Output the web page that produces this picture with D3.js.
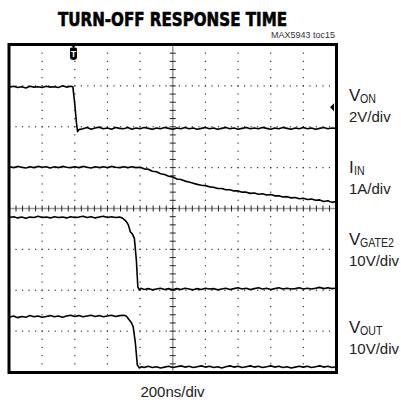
<!DOCTYPE html>
<html>
<head>
<meta charset="utf-8">
<script src="https://cdnjs.cloudflare.com/ajax/libs/d3/7.8.5/d3.min.js"></script>
<style>
  body { margin: 0; background: #fff; }
  svg { display: block; }
</style>
</head>
<body>
<svg width="401" height="404"></svg>
<script>
// time in ns, level in screen divisions (0 = centre line)
var vOn = [[0,2.97],[25,2.99],[50,2.96],[75,2.98],[100,2.95],[125,2.99],[150,2.97],[175,2.98],[200,2.96],[225,2.99],
  [250,2.97],[275,2.98],[300,2.96],[325,3.00],[350,2.97],[375,2.99],[388,2.98],[400,2.55],[410,2.10],[417,1.88],
  [425,1.93],[450,1.95],[475,1.98],[500,1.94],[525,1.97],[550,1.99],[575,1.95],[600,1.97],[625,1.94],[650,1.98],
  [675,1.96],[700,1.95],[725,1.98],[750,1.94],[775,1.97],[800,1.95],[825,1.98],[850,1.96],[875,1.94],[900,1.97],
  [925,1.95],[950,1.98],[975,1.96],[1000,1.94],[1025,1.97],[1050,1.95],[1075,1.98],[1100,1.95],[1125,1.97],[1150,1.94],
  [1175,1.96],[1200,1.98],[1225,1.95],[1250,1.97],[1275,1.94],[1300,1.96],[1325,1.98],[1350,1.95],[1375,1.97],[1400,1.94],
  [1425,1.96],[1450,1.98],[1475,1.95],[1500,1.97],[1525,1.95],[1550,1.98],[1575,1.96],[1600,1.94],[1625,1.97],[1650,1.95],
  [1675,1.98],[1700,1.96],[1725,1.94],[1750,1.97],[1775,1.95],[1800,1.98],[1825,1.95],[1850,1.97],[1875,1.94],[1900,1.96],
  [1925,1.98],[1950,1.95],[1975,1.97],[2000,1.96]];

var iIn = [[0,1.02],[25,1.00],[50,1.03],[75,1.01],[100,0.99],[125,1.02],[150,1.00],[175,1.03],[200,1.01],[225,1.02],
  [250,0.99],[275,1.02],[300,1.00],[325,1.03],[350,1.01],[375,1.00],[400,1.02],[425,1.00],[450,1.03],[475,1.01],
  [500,0.99],[525,1.02],[550,1.00],[575,1.02],[600,1.00],[625,1.03],[650,1.01],[675,1.00],[700,1.02],[725,1.00],
  [750,1.02],[775,1.00],[800,1.01],[825,0.97],[850,0.96],[875,0.91],[900,0.90],[925,0.85],[950,0.83],[975,0.79],
  [1000,0.77],[1025,0.72],[1050,0.71],[1075,0.67],[1100,0.65],[1125,0.62],[1150,0.59],[1175,0.57],[1200,0.56],[1225,0.53],
  [1250,0.52],[1275,0.49],[1300,0.49],[1325,0.46],[1350,0.46],[1375,0.43],[1400,0.43],[1425,0.40],[1450,0.40],[1475,0.37],
  [1500,0.38],[1525,0.35],[1550,0.36],[1575,0.33],[1600,0.34],[1625,0.31],[1650,0.31],[1675,0.28],[1700,0.29],[1725,0.26],
  [1750,0.27],[1775,0.24],[1800,0.25],[1825,0.22],[1850,0.23],[1875,0.20],[1900,0.21],[1925,0.17],[1950,0.19],[1975,0.15],
  [2000,0.17]];

var vGate2 = [[0,-0.22],[25,-0.20],[50,-0.23],[75,-0.21],[100,-0.24],[125,-0.21],[150,-0.22],[175,-0.19],[200,-0.22],[225,-0.21],
  [250,-0.23],[275,-0.20],[300,-0.22],[325,-0.21],[350,-0.23],[375,-0.20],[400,-0.22],[425,-0.21],[450,-0.19],[475,-0.22],
  [500,-0.20],[525,-0.23],[550,-0.21],[575,-0.19],[600,-0.22],[625,-0.20],[650,-0.22],[675,-0.21],[690,-0.23],[705,-0.28],
  [716,-0.32],[728,-0.40],[740,-0.57],[752,-0.62],[765,-0.73],[777,-1.26],[786,-1.91],[795,-1.99],[805,-1.95],[825,-1.98],
  [850,-1.96],[875,-1.99],[900,-1.97],[925,-1.95],[950,-1.98],[975,-1.96],[1000,-1.99],[1025,-1.96],[1050,-1.98],[1075,-1.95],
  [1100,-1.97],[1125,-1.99],[1150,-1.96],[1175,-1.98],[1200,-1.95],[1225,-1.97],[1250,-1.96],[1275,-1.99],[1300,-1.97],[1325,-1.95],
  [1350,-1.98],[1375,-1.96],[1400,-1.94],[1425,-1.97],[1450,-1.95],[1475,-1.98],[1500,-1.96],[1525,-1.94],[1550,-1.97],[1575,-1.95],
  [1600,-1.98],[1625,-1.96],[1650,-1.94],[1675,-1.97],[1700,-1.95],[1725,-1.97],[1750,-1.96],[1775,-1.94],[1800,-1.97],[1825,-1.95],
  [1850,-1.97],[1875,-1.95],[1900,-1.93],[1925,-1.96],[1950,-1.94],[1975,-1.96],[2000,-1.95]];

var vOut = [[0,-2.66],[25,-2.63],[50,-2.67],[75,-2.64],[100,-2.66],[125,-2.62],[150,-2.65],[175,-2.63],[200,-2.66],[225,-2.64],
  [250,-2.62],[275,-2.65],[300,-2.63],[325,-2.66],[350,-2.63],[375,-2.61],[400,-2.64],[425,-2.62],[450,-2.65],[475,-2.63],
  [500,-2.61],[525,-2.64],[550,-2.62],[575,-2.65],[600,-2.63],[625,-2.61],[650,-2.64],[675,-2.62],[700,-2.61],[715,-2.63],
  [734,-2.73],[748,-2.80],[758,-2.90],[771,-3.29],[783,-3.83],[795,-3.90],[810,-3.87],[825,-3.89],[850,-3.86],[875,-3.89],
  [900,-3.87],[925,-3.90],[950,-3.88],[975,-3.86],[1000,-3.89],[1025,-3.87],[1050,-3.85],[1075,-3.88],[1100,-3.86],[1125,-3.89],
  [1150,-3.87],[1175,-3.85],[1200,-3.88],[1225,-3.86],[1250,-3.89],[1275,-3.87],[1300,-3.90],[1325,-3.87],[1350,-3.85],[1375,-3.88],
  [1400,-3.86],[1425,-3.89],[1450,-3.87],[1475,-3.85],[1500,-3.88],[1525,-3.86],[1550,-3.89],[1575,-3.87],[1600,-3.85],[1625,-3.88],
  [1650,-3.86],[1675,-3.89],[1700,-3.87],[1725,-3.90],[1750,-3.88],[1775,-3.86],[1800,-3.88],[1825,-3.86],[1850,-3.89],[1875,-3.87],
  [1900,-3.85],[1925,-3.88],[1950,-3.86],[1975,-3.89],[2000,-3.87]];

var traces = [vOn, iIn, vGate2, vOut];
var triggerTime = 392;
var refLevel = 2.48;   // channel marker on the right edge

var labelMain = ["V", "I", "V", "V"];
var labelSub = ["ON", "IN", "GATE2", "OUT"];
var labelScale = ["2V/div", "1A/div", "10V/div", "10V/div"];

// baselines of the right-hand label pairs
var labelY = [101, 173, 245, 333];
var labelGap = 20.5;

var plotLeft = 9.5, plotTop = 45, plotW = 326.5, plotH = 327;

var svg = d3.select("svg");

var xScale = d3.scaleLinear().domain([0, 2000]).range([plotLeft, plotLeft + plotW]);
var yScale = d3.scaleLinear().domain([-4, 4]).range([plotTop + plotH, plotTop]);

var majorX = d3.range(0, 2001, 200);
var minorX = d3.range(0, 2001, 40);
var majorY = d3.range(-4, 4.001, 1);
var minorY = d3.range(-4, 4.001, 0.2);

var grid = svg.append("g").attr("fill", "#333");

// dotted horizontal grid lines
majorY.filter(v => v !== 0).forEach(v => {
  grid.selectAll(null)
    .data(minorX)
    .enter()
    .append("rect")
    .attr("x", d => xScale(d) - 0.6)
    .attr("y", yScale(v) - 0.6)
    .attr("width", 1.2)
    .attr("height", 1.2);
});

// dotted vertical grid lines
majorX.filter(t => t !== 1000).forEach(t => {
  grid.selectAll(null)
    .data(minorY)
    .enter()
    .append("rect")
    .attr("x", xScale(t) - 0.6)
    .attr("y", d => yScale(d) - 0.6)
    .attr("width", 1.2)
    .attr("height", 1.2);
});

// centre axes with ticks
svg.append("line")
  .attr("x1", xScale(0)).attr("x2", xScale(2000))
  .attr("y1", yScale(0)).attr("y2", yScale(0))
  .attr("stroke", "#999").attr("stroke-width", 1.5);
svg.append("line")
  .attr("x1", xScale(1000)).attr("x2", xScale(1000))
  .attr("y1", yScale(-4)).attr("y2", yScale(4))
  .attr("stroke", "#999").attr("stroke-width", 1.5);

svg.append("g")
  .selectAll("line")
  .data(minorX)
  .enter()
  .append("line")
  .attr("x1", d => xScale(d)).attr("x2", d => xScale(d))
  .attr("y1", yScale(0) - 3).attr("y2", yScale(0) + 3)
  .attr("stroke", "#222").attr("stroke-width", 1);

svg.append("g")
  .selectAll("line")
  .data(minorY)
  .enter()
  .append("line")
  .attr("y1", d => yScale(d)).attr("y2", d => yScale(d))
  .attr("x1", xScale(1000) - 3).attr("x2", xScale(1000) + 3)
  .attr("stroke", "#222").attr("stroke-width", 1);

// traces
svg.append("clipPath").attr("id", "plot")
  .append("rect").attr("x", plotLeft).attr("y", plotTop).attr("width", plotW).attr("height", plotH);

var line = d3.line().x(d => xScale(d[0])).y(d => yScale(d[1]));

svg.append("g")
  .attr("clip-path", "url(#plot)")
  .selectAll("path")
  .data(traces)
  .enter()
  .append("path")
  .attr("d", line)
  .attr("fill", "none")
  .attr("stroke", "#000")
  .attr("stroke-width", 1.6)
  .attr("stroke-linejoin", "round");

// frame
svg.append("rect")
  .attr("x", plotLeft - 0.5).attr("y", plotTop - 0.5)
  .attr("width", plotW + 1).attr("height", plotH + 1)
  .attr("fill", "none").attr("stroke", "#000").attr("stroke-width", 3);

// trigger marker
var tx = xScale(triggerTime);
var trig = svg.append("g").attr("transform", `translate(${tx},${plotTop})`);
trig.append("path")
  .attr("d", "M-2.5,0 L2.5,0 L0,3 Z M-3.5,4 Q-3.5,2.5 -2,2.5 L2,2.5 Q3.5,2.5 3.5,4 L3.5,12 Q3.5,15 0,15 Q-3.5,15 -3.5,12 Z")
  .attr("fill", "#000");
trig.append("text")
  .attr("x", 0).attr("y", 12)
  .attr("text-anchor", "middle")
  .attr("font-family", "Liberation Sans, Arial, sans-serif")
  .attr("font-weight", "bold")
  .attr("font-size", 9)
  .attr("fill", "#fff")
  .text("T");

// reference level marker on the right edge
var ry = yScale(refLevel), rx = plotLeft + plotW;
svg.append("path")
  .attr("d", `M${rx - 6},${ry} L${rx - 2},${ry - 4} L${rx - 2},${ry + 4} Z`)
  .attr("fill", "#000");

// title
svg.append("text")
  .attr("x", 172.5).attr("y", 26)
  .attr("text-anchor", "middle")
  .attr("font-family", "DejaVu Sans Condensed, Liberation Sans Narrow, Arial, sans-serif")
  .attr("font-weight", "bold")
  .attr("font-size", 19.5)
  .attr("stroke", "#000")
  .attr("stroke-width", 0.6)
  .attr("textLength", 229)
  .attr("lengthAdjust", "spacingAndGlyphs")
  .text("TURN-OFF RESPONSE TIME");

svg.append("text")
  .attr("x", 335).attr("y", 37.5)
  .attr("text-anchor", "end")
  .attr("font-family", "Liberation Sans, Arial, sans-serif")
  .attr("font-size", 8.5)
  .attr("fill", "#333")
  .attr("textLength", 64)
  .attr("lengthAdjust", "spacingAndGlyphs")
  .text("MAX5943 toc15");

// channel labels
var lab = svg.selectAll(".lab")
  .data(labelMain)
  .enter()
  .append("g")
  .attr("class", "lab")
  .attr("font-family", "Liberation Sans, Arial, sans-serif")
  .attr("fill", "#222");

lab.append("text")
  .attr("x", 349)
  .attr("y", (d, i) => labelY[i])
  .attr("font-size", 17)
  .text(d => d);

// subscripts are set narrow, like the condensed face of the original
lab.append("text")
  .attr("transform", (d, i) => `translate(${d === "I" ? 354 : 360},${labelY[i] + 1.5}) scale(0.85,1)`)
  .attr("font-size", 12.5)
  .text((d, i) => labelSub[i]);

lab.append("text")
  .attr("x", 349)
  .attr("y", (d, i) => labelY[i] + labelGap)
  .attr("font-size", 15)
  .text((d, i) => labelScale[i]);

svg.append("text")
  .attr("x", 172.5).attr("y", 397)
  .attr("text-anchor", "middle")
  .attr("font-family", "Liberation Sans, Arial, sans-serif")
  .attr("font-size", 15)
  .attr("fill", "#222")
  .text("200ns/div");
</script>
</body>
</html>
